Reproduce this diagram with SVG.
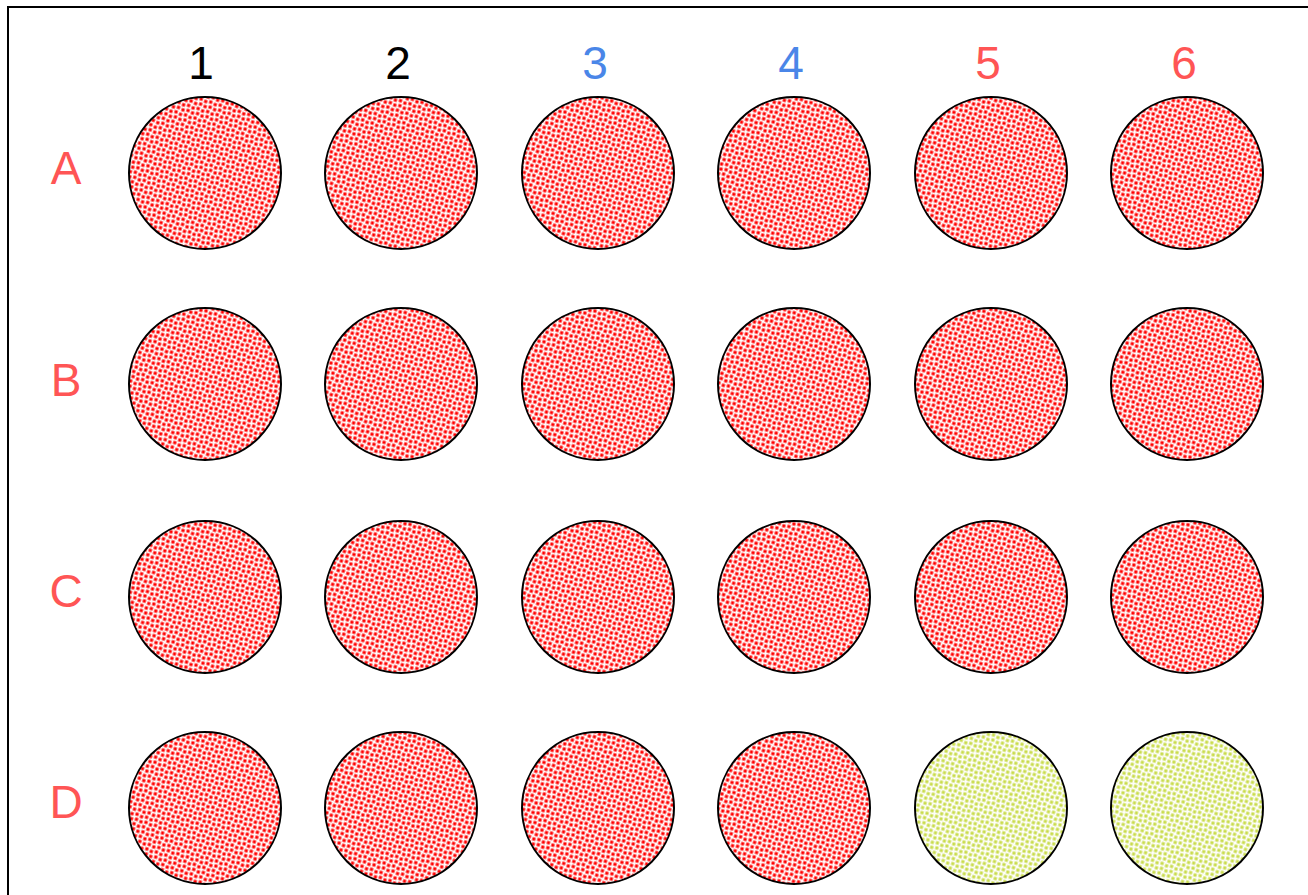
<svg xmlns="http://www.w3.org/2000/svg" width="1308" height="895" viewBox="0 0 1308 895">
<style>
.well{stroke:#000;stroke-width:2}
.red{fill:url(#dotsRed)}
.grn{fill:url(#dotsGreen)}
.lbl{font-family:"Liberation Sans",Arial,sans-serif;font-size:46px;text-anchor:middle}
.k{fill:#000}.b{fill:#4a86e8}.r{fill:#ff5555}
</style>
<defs>
<pattern id="dotsRed" patternUnits="userSpaceOnUse" width="10" height="10" patternTransform="rotate(18)">
<rect width="10" height="10" fill="#fff"/>
<rect x="0.4" y="0.4" width="3.2" height="3.2" fill="#ff0000"/>
<rect x="5.4" y="1.4" width="3.2" height="3.2" fill="#ff0000"/>
<rect x="1.4" y="5.4" width="3.2" height="3.2" fill="#ff0000"/>
<rect x="6.4" y="6.4" width="3.2" height="3.2" fill="#ff0000"/>
</pattern>
<pattern id="dotsGreen" patternUnits="userSpaceOnUse" width="10" height="10" patternTransform="rotate(18)">
<rect width="10" height="10" fill="#fff"/>
<rect x="0.4" y="0.4" width="3.2" height="3.2" fill="#c9dc4c"/>
<rect x="5.4" y="1.4" width="3.2" height="3.2" fill="#c9dc4c"/>
<rect x="1.4" y="5.4" width="3.2" height="3.2" fill="#c9dc4c"/>
<rect x="6.4" y="6.4" width="3.2" height="3.2" fill="#c9dc4c"/>
</pattern>
</defs>
<rect width="1308" height="895" fill="#fff"/>
<rect id="plate" x="8" y="7" width="1320" height="910" fill="none" stroke="#000" stroke-width="2"/>
<g id="col-labels">
<text class="lbl k" x="201" y="79">1</text>
<text class="lbl k" x="398" y="79">2</text>
<text class="lbl b" x="595" y="79">3</text>
<text class="lbl b" x="791" y="79">4</text>
<text class="lbl r" x="988" y="79">5</text>
<text class="lbl r" x="1184" y="79">6</text>
</g>
<g id="row-labels">
<text class="lbl r" x="66" y="184">A</text>
<text class="lbl r" x="66" y="396">B</text>
<text class="lbl r" x="66" y="607">C</text>
<text class="lbl r" x="66" y="818">D</text>
</g>
<g id="row-A">
<circle id="A1" class="well red" cx="205" cy="173" r="76"/>
<circle id="A2" class="well red" cx="401" cy="173" r="76"/>
<circle id="A3" class="well red" cx="598" cy="173" r="76"/>
<circle id="A4" class="well red" cx="794" cy="173" r="76"/>
<circle id="A5" class="well red" cx="991" cy="173" r="76"/>
<circle id="A6" class="well red" cx="1187" cy="173" r="76"/>
</g>
<g id="row-B">
<circle id="B1" class="well red" cx="205" cy="384" r="76"/>
<circle id="B2" class="well red" cx="401" cy="384" r="76"/>
<circle id="B3" class="well red" cx="598" cy="384" r="76"/>
<circle id="B4" class="well red" cx="794" cy="384" r="76"/>
<circle id="B5" class="well red" cx="991" cy="384" r="76"/>
<circle id="B6" class="well red" cx="1187" cy="384" r="76"/>
</g>
<g id="row-C">
<circle id="C1" class="well red" cx="205" cy="597" r="76"/>
<circle id="C2" class="well red" cx="401" cy="597" r="76"/>
<circle id="C3" class="well red" cx="598" cy="597" r="76"/>
<circle id="C4" class="well red" cx="794" cy="597" r="76"/>
<circle id="C5" class="well red" cx="991" cy="597" r="76"/>
<circle id="C6" class="well red" cx="1187" cy="597" r="76"/>
</g>
<g id="row-D">
<circle id="D1" class="well red" cx="205" cy="808" r="76"/>
<circle id="D2" class="well red" cx="401" cy="808" r="76"/>
<circle id="D3" class="well red" cx="598" cy="808" r="76"/>
<circle id="D4" class="well red" cx="794" cy="808" r="76"/>
<circle id="D5" class="well grn" cx="991" cy="808" r="76"/>
<circle id="D6" class="well grn" cx="1187" cy="808" r="76"/>
</g>
<g id="connectors"/>
</svg>
